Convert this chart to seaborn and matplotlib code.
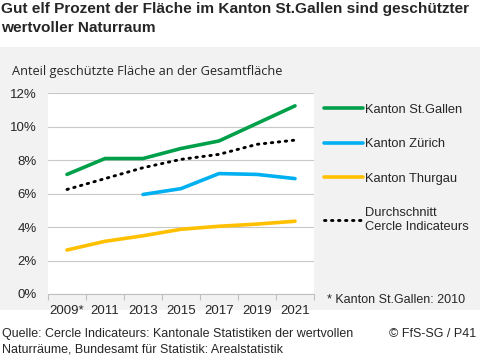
import numpy as np
import pandas as pd
import seaborn as sns
from matplotlib import pyplot as plt
from matplotlib.patches import Rectangle

# data (percent of total area)
years = ["2009*", "2011", "2013", "2015", "2017", "2019", "2021"]
st_gallen = [7.15, 8.1, 8.1, 8.7, 9.15, 10.2, 11.25]
zuerich = [np.nan, np.nan, 5.95, 6.3, 7.2, 7.15, 6.9]
thurgau = [2.63, 3.15, 3.48, 3.87, 4.05, 4.18, 4.35]
durchschnitt = [6.25, 6.9, 7.55, 8.05, 8.35, 8.95, 9.2]

series_names = ["Kanton St.Gallen", "Kanton Zürich", "Kanton Thurgau", "Durchschnitt\nCercle Indicateurs"]
colors = ["#00a04b", "#00b0f0", "#ffc000", "black"]

sns.set_theme(style="white")
plt.rcParams["font.family"] = ["Liberation Sans", "DejaVu Sans"]

fig = plt.figure(figsize=(4.87, 3.59), dpi=100)
fig.patch.set_facecolor("white")

# grey background panel
fig.patches.append(Rectangle((0, 1 - 310 / 359), 480 / 487, (310 - 47) / 359,
                             transform=fig.transFigure, facecolor="#f2f2f2",
                             edgecolor="none", zorder=-5))

ax = fig.add_axes([48 / 487, 1 - 294 / 359, 266 / 487, (294 - 93.3) / 359])
ax.set_facecolor("white")

df = pd.DataFrame({"pos": np.arange(len(years)), "sg": st_gallen, "zh": zuerich,
                   "tg": thurgau, "avg": durchschnitt})

sns.lineplot(data=df, x="pos", y="sg", color=colors[0], linewidth=2.6, ax=ax, label=series_names[0])
sns.lineplot(data=df.dropna(), x="pos", y="zh", color=colors[1], linewidth=2.6, ax=ax, label=series_names[1])
sns.lineplot(data=df, x="pos", y="tg", color=colors[2], linewidth=2.6, ax=ax, label=series_names[2])
sns.lineplot(data=df, x="pos", y="avg", color=colors[3], linewidth=2.1, ax=ax, label=series_names[3],
             linestyle=(0, (0.5, 1.9)), dash_capstyle="round")

ax.set_xlim(-0.5, len(years) - 0.5)
ax.set_ylim(0, 12)
ax.set_yticks(np.arange(0, 13, 2))
ax.set_yticklabels([f"{v}%" for v in range(0, 13, 2)], fontsize=9.5)
ax.set_xticks(np.arange(len(years)))
ax.set_xticklabels(years, fontsize=9.5)
ax.set_xticks(np.arange(-0.5, len(years)), minor=True)
ax.tick_params(axis="x", which="major", length=0, pad=8)
ax.tick_params(axis="x", which="minor", length=4, color="#bfbfbf", width=0.8, direction="out")
ax.tick_params(axis="y", length=0, pad=8)
ax.xaxis.set_ticks_position("bottom")
ax.set_xlabel("")
ax.set_ylabel("")
ax.grid(axis="y", color="#c8c8c8", linewidth=0.8)
ax.set_axisbelow(True)
for side in ["top", "right", "left"]:
    ax.spines[side].set_visible(False)
ax.spines["bottom"].set_color("#bfbfbf")
ax.spines["bottom"].set_linewidth(0.8)

ax.legend(loc="upper left", bbox_to_anchor=(1.02, 0.975), frameon=False, fontsize=9.3,
          handlelength=3.0, handletextpad=0.15, labelspacing=1.75, borderaxespad=0)

# texts
fig.text(1 / 487, 1 - 2 / 359, "Gut elf Prozent der Fläche im Kanton St.Gallen sind geschützter\nwertvoller Naturraum",
         ha="left", va="top", fontsize=11.1, fontweight="bold", linespacing=1.45)
fig.text(12 / 487, 1 - 71 / 359, "Anteil geschützte Fläche an der Gesamtfläche",
         ha="left", va="center", fontsize=9.2, family=["Open Sans", "DejaVu Sans"])
fig.text(327 / 487, 1 - 300 / 359, "* Kanton St.Gallen: 2010", ha="left", va="center", fontsize=9)
fig.text(2 / 487, 1 - 328 / 359, "Quelle: Cercle Indicateurs: Kantonale Statistiken der wertvollen\nNaturräume, Bundesamt für Statistik: Arealstatistik",
         ha="left", va="top", fontsize=9, linespacing=1.4)
fig.text(476 / 487, 1 - 328 / 359, "© FfS-SG / P41", ha="right", va="top", fontsize=9)

fig.savefig("out.png", dpi=100)
